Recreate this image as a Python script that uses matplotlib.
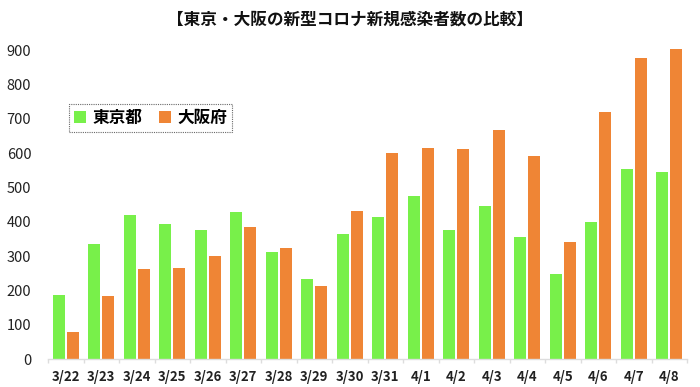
import matplotlib
matplotlib.use("Agg")
import matplotlib.pyplot as plt
import numpy as np

plt.rcParams['font.family'] = ['Noto Sans CJK JP', 'DejaVu Sans']

dates = ["3/22", "3/23", "3/24", "3/25", "3/26", "3/27", "3/28", "3/29", "3/30",
         "3/31", "4/1", "4/2", "4/3", "4/4", "4/5", "4/6", "4/7", "4/8"]
tokyo = [187, 337, 420, 394, 376, 430, 313, 234, 364, 414, 475, 376, 446, 355, 249, 399, 555, 545]
osaka = [79, 183, 262, 266, 300, 386, 323, 213, 432, 599, 616, 613, 666, 593, 341, 719, 878, 902]
yticks = [0, 100, 200, 300, 400, 500, 600, 700, 800, 900]

green = "#78F04A"
orange = "#EF8535"

fig = plt.figure(figsize=(7.0, 3.87), dpi=100)
ax = fig.add_axes([48/700, 27.7/387, (687-48)/700, (359.3-48)/387])

x = np.arange(len(dates))
w = 0.33
ax.bar(x - 0.2, tokyo, w, color=green, label="東京都")
ax.bar(x + 0.2, osaka, w, color=orange, label="大阪府")

ax.set_xlim(-0.5, len(dates) - 0.5)
ax.set_ylim(0, 906)
ax.set_yticks(yticks)
ax.set_yticklabels([str(v) for v in yticks], fontsize=10.5, color="#222222")
ax.set_xticks(x)
ax.set_xticklabels(dates, fontsize=9.5, fontweight="bold", color="#222222")
ax.set_xticks(np.arange(-0.5, len(dates)), minor=True)
ax.tick_params(axis="both", which="major", length=0)
ax.tick_params(axis="x", which="minor", length=3, color="#DDDDDD", width=1.0)
ax.tick_params(axis="y", pad=12)
ax.tick_params(axis="x", pad=8)
for s in ["top", "right", "left"]:
    ax.spines[s].set_visible(False)
ax.spines["bottom"].set_color("#DDDDDD")
ax.spines["bottom"].set_linewidth(1.0)

leg = ax.legend(loc="upper left", bbox_to_anchor=((69-48)/639, (359.3-104)/311.3),
                borderaxespad=0,
                ncol=2, frameon=True, fancybox=False, handlelength=0.7, handleheight=0.7,
                handletextpad=0.4, columnspacing=1.0, borderpad=0.3,
                prop={'family': ['Noto Sans CJK JP'], 'weight': 'bold', 'size': 12})
fr = leg.get_frame()
fr.set_edgecolor("#444444")
fr.set_linestyle((0, (1, 1)))
fr.set_linewidth(0.8)

fig.text(0.5, 1 - 20/387, "【東京・大阪の新型コロナ新規感染者数の比較】", ha="center", va="center",
         fontsize=12, fontweight="bold", color="#111111")

fig.savefig("out.png", dpi=100)
